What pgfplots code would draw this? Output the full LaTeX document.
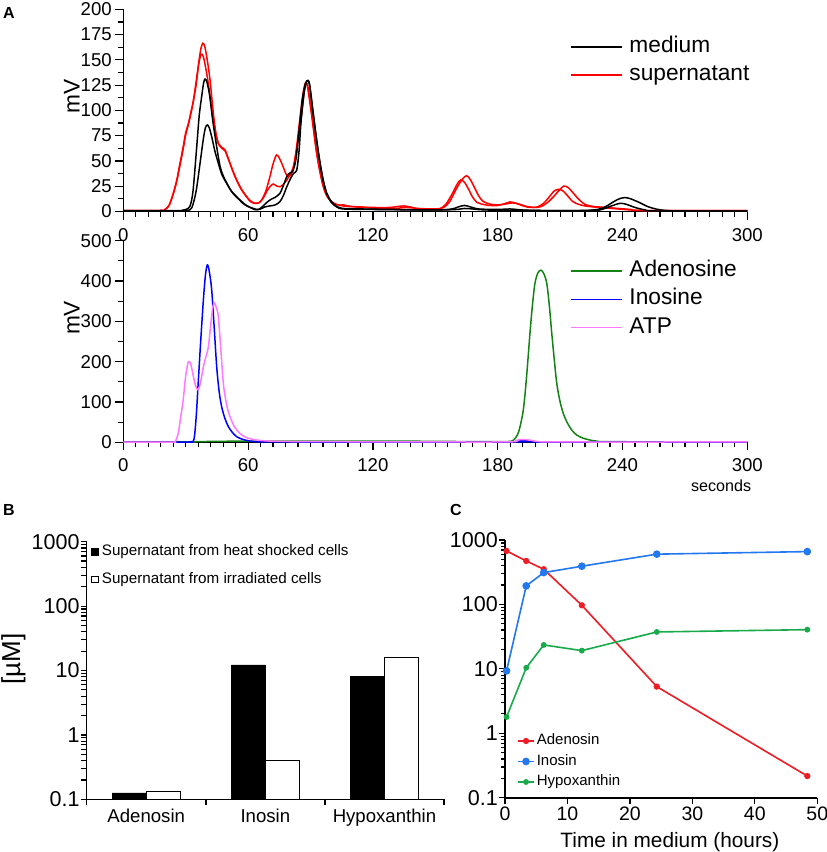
\documentclass[border=0pt]{standalone}
\usepackage{pgfplots}
\pgfplotsset{compat=1.18}
\usepackage{fontspec}
\setmainfont{Liberation Sans}

\definecolor{atp}{RGB}{255,120,255}
\definecolor{ado}{RGB}{20,130,20}
\definecolor{ino}{RGB}{0,0,255}
\definecolor{cred}{RGB}{238,28,36}
\definecolor{cblue}{RGB}{35,120,240}
\definecolor{cgreen}{RGB}{25,170,75}
\newcommand{\fs}[1]{\fontsize{#1pt}{#1pt}\selectfont}

\pgfplotsset{
  base/.style={
    scale only axis,
    axis x line*=bottom, axis y line*=left,
    axis line style={line width=1.6pt,-},
    every tick/.style={black,line width=1.2pt},
    tick align=outside,
    /pgf/number format/assume math mode=true,
    /pgf/number format/1000 sep={},
  },
  chrom/.style={base, width=624pt, xmin=0, xmax=300, ymin=0,
    xtick={0,60,...,300}, minor x tick num=9, minor y tick num=1,
    major tick length=8pt, minor tick length=5pt,
    tick label style={font=\fs{18.6}},
    xticklabel style={yshift=-5pt},
    ylabel={mV}, ylabel style={font=\fs{22.7}, anchor=center},
    legend style={draw=none, fill=none, font=\fs{22.7}, anchor=north west,
      inner sep=0pt, row sep=6.3pt,
      nodes={inner sep=0pt, text height=16.5pt, text depth=5.5pt},
      /tikz/every odd column/.append style={column sep=6.7pt}},
    legend cell align=left,
    every axis plot/.append style={smooth, line width=1.5pt},
  },
  logax/.style={base, ymin=0.1, ymax=1000,
    ytick={0.1,1,10,100,1000}, yticklabels={0.1,1,10,100,1000},
    minor ytick={0.2,0.3,0.4,0.5,0.6,0.7,0.8,0.9,2,3,4,5,6,7,8,9,20,30,40,50,60,70,80,90,200,300,400,500,600,700,800,900},
    major tick length=6pt, minor tick length=4pt,
    yticklabel style={font=\fs{21.5}, inner xsep=1pt},
    legend cell align=left,
  },
  lineleg/.style={legend image code/.code={\draw[mark repeat=2,mark phase=2,##1] plot coordinates {(0pt,0pt) (8.3pt,0pt) (16.6pt,0pt)};}},
}

\begin{document}
\begin{tikzpicture}
\path[use as bounding box] (0,0) rectangle (827pt,-852pt);
\node[font=\bfseries\fs{16}] at (9pt,-13pt) {A};
\node[font=\bfseries\fs{16}] at (9pt,-510pt) {B};
\node[font=\bfseries\fs{16}] at (456pt,-510pt) {C};

% A, top: medium vs supernatant
\begin{axis}[chrom, at={(123.3pt,-211.5pt)}, anchor=south west,
  height=202.2pt, ymax=200, ytick={0,25,...,200},
  ylabel style={at={(axis description cs:-0.0827,0.568)}},
  legend style={at={(axis description cs:0.716,0.87)}}]
\addlegendimage{legend image code/.code={\draw[black, line width=1.5pt] (0pt,0pt) -- (51pt,0pt);}}
\addlegendentry{medium}
\addlegendimage{legend image code/.code={\draw[red, line width=1.5pt] (0pt,0pt) -- (51pt,0pt);}}
\addlegendentry{supernatant}
\addplot[red, forget plot] coordinates {(0,1) (18,1) (20,2) (22,6) (24,18) (25.7,31) (27,45) (28.8,64) (30,78) (31.3,87) (32.5,98) (33.7,110) (35,128) (36,143) (37.2,160) (38.2,166.4) (39.2,163) (40.5,148) (41.7,130) (43.3,97) (44.5,78) (45.7,67.5) (47,64) (48.9,61) (50,55) (51.3,47.7) (53,38) (54.5,31) (56.5,23) (59.3,14.7) (61,10) (63.3,8) (65,8.5) (66.5,11.4) (68.5,20) (70.5,34.5) (72,47) (73.7,56) (75.2,52) (76.9,44) (78,38) (79.3,34.5) (80.8,37) (82.5,47.7) (84,70) (85.8,97) (87,120) (87.8,126.8) (88.8,123) (90.6,97) (91.8,77) (93,57.6) (94.5,40) (96.2,24.5) (98,15) (101,8) (104.2,6.4) (106,6.5) (108,5.5) (112,4.5) (120,4) (128,4) (132,5) (135,5.5) (138,4.5) (142,2.5) (148,2) (152,2.5) (155,7) (158,17) (160.5,27) (162.2,31.2) (164,29) (166,22) (168,14) (170,9) (172,7.5) (176,6) (180,6) (183,7.5) (186,9.5) (189,8) (193,5) (196,4) (199,4.5) (202,8) (205,15) (207,20) (209.2,22) (211,21) (213,17) (216,10) (219,7) (222,5.5) (226,4.5) (232,3.5) (238,2.5) (244,1.5) (250,1) (300,0.8)};
\addplot[red, forget plot] coordinates {(0,1) (18,1) (20,2) (22,6) (24,17) (25.7,30) (27,43) (28.8,62) (30,76) (31.3,86) (32.5,97) (33.7,109) (35,125) (36.2,145) (37.4,155.5) (38.5,153) (39.8,140) (41.2,122) (42.8,97) (44.2,79) (45.7,67) (47.2,63) (48.9,60) (50.3,53) (51.6,46) (53.3,37) (55,29) (57,21) (59.5,14) (61.5,10) (63.5,8) (65.5,9) (67.5,14) (69,20) (70.5,24.5) (72.1,27.2) (73.5,25.5) (75.3,24.5) (77,27) (78.6,31) (80.2,37) (81.7,44) (83.2,62) (84.8,90) (86.3,115) (87.5,127) (88.5,124) (90.3,99) (91.5,80) (92.8,60) (94.3,42) (96,26) (98,15) (101,8.5) (104.2,6) (108,5) (114,4.5) (120,3.5) (130,3) (136,4) (142,3) (150,2.5) (154,4) (157,10) (160,22) (163,32) (165.1,35.4) (167,31) (169,23) (171,15) (173,10) (176,7.5) (180,6.5) (184,7.5) (187,8.5) (190,7.5) (194,5) (198,4) (201,5) (204,9) (207,15) (210,22) (211.9,25.2) (214,23.5) (216,19) (219,12) (222,7) (226,5) (232,4) (238,3) (244,2) (250,1) (300,0.8)};
\addplot[black, forget plot] coordinates {(0,0.8) (20,0.8) (28,1) (30,2) (32,5) (33.5,20) (35.3,64) (36.5,95) (37.7,114) (38.6,127) (39.3,131) (40.2,128) (41.5,115) (43,90) (44.9,64) (46.5,45) (48.1,35) (50,27) (52,20) (54.5,14.7) (57,9) (59,6) (61,4) (63,2) (65,2) (67,5) (69,9) (71,12) (73,14) (75.3,18) (77,26) (78.6,34.5) (80,38) (81.5,40) (83,52) (84.5,80) (86,110) (87.5,126) (88.5,129.5) (89.5,126) (91.3,97) (93,70) (94.6,47.7) (96.2,30) (97.8,18) (100,10) (102.6,5) (106,3) (115,2.5) (130,2) (150,1.5) (158,2.5) (161,4.5) (164,6) (167,4.5) (171,2.5) (180,2) (186,2.5) (192,1.5) (200,1) (220,1) (228,2) (232,5) (236,10) (239,13) (241.5,13.7) (244,12.5) (248,9) (252,5) (256,2.5) (261,1) (270,0.5) (300,0.5)};
\addplot[black, forget plot] coordinates {(0,0.5) (28,0.5) (31,1) (33,4) (35,20) (36.9,47.7) (38.5,72) (39.5,83) (40.4,85.6) (41.3,83) (42.5,74) (44,60) (45.7,47.7) (47.5,36) (49.7,27.9) (52,20) (54,15) (56.1,11.4) (58.5,7) (60.5,4.5) (62.5,3) (64,2) (66,2.5) (68,4.5) (70.5,5.5) (73,6.5) (75.3,9.7) (77,16) (78.6,24.5) (80.5,33) (82,38) (83.4,41) (84.5,60) (85.5,90) (87,118) (88.3,129) (89.5,126) (91.3,97) (93,70) (94.6,47.7) (96.2,30) (97.8,18) (100,9) (102.6,4.5) (106,2.5) (120,2) (150,1.5) (160,2) (164,3) (168,2.5) (175,1.5) (200,1) (225,1) (230,2) (234,5) (238.8,8.1) (242,7) (246,4) (251,1.5) (256,0.5) (300,0.5)};
\end{axis}

% A, bottom: standards
\begin{axis}[chrom, at={(123.3pt,-442.3pt)}, anchor=south west,
  height=201.6pt, ymax=500, ytick={0,100,...,500},
  ylabel style={at={(axis description cs:-0.0827,0.617)}},
  xlabel={seconds}, xlabel style={font=\fs{16.1}, anchor=center, at={(axis description cs:0.958,-0.215)}},
  legend style={at={(axis description cs:0.716,0.905)}}]
\addlegendimage{legend image code/.code={\draw[ado, line width=1.5pt] (0pt,0pt) -- (51pt,0pt);}}
\addlegendentry{Adenosine}
\addlegendimage{legend image code/.code={\draw[ino, line width=1.5pt] (0pt,0pt) -- (51pt,0pt);}}
\addlegendentry{Inosine}
\addlegendimage{legend image code/.code={\draw[atp, line width=1.5pt] (0pt,0pt) -- (51pt,0pt);}}
\addlegendentry{ATP}
\addplot[ado, forget plot] coordinates {(0,1) (30,1) (40,2) (60,3) (100,3) (130,3) (160,2) (180,1.5) (185,2) (187.5,5) (190,25) (192.3,80) (194,170) (195.5,270) (196.7,340) (197.9,394) (199.3,420) (200.8,427) (202.2,418) (203.6,394) (204.8,340) (206,270) (207.2,205) (208.4,146) (209.8,105) (211.5,72) (213.5,48) (215.6,30.5) (218,18) (221.2,10) (224.5,5.5) (227.6,3) (235,1.5) (300,1)};
\addplot[ino, forget plot] coordinates {(0,0.5) (30,0.5) (32.5,1.5) (34,8) (35,60) (36,146) (37.2,250) (38.5,353) (39.5,415) (40.4,440) (41.3,425) (42.5,378) (43.7,285) (44.9,187.5) (46.1,125) (47.3,88) (48.8,60) (50.5,39) (52.5,24) (54.5,14) (57,8) (60.9,3) (65,1.5) (75,0.8) (185,0.8) (190,3) (193,4) (197,2) (205,0.5) (300,0.5)};
\addplot[atp, forget plot] coordinates {(0,0.5) (23,0.5) (25,2) (26.5,25) (27.5,60) (28.8,105) (30,165) (31.3,200) (32.5,192) (33.7,163) (34.8,140) (36,130) (37.2,150) (38.5,187.5) (39.7,212) (40.9,237) (42,290) (43,335) (43.8,345) (44.7,335) (45.7,311) (46.9,230) (48.1,146) (49.6,95) (51.3,63.5) (53.5,38) (56.1,22) (59,12) (62.5,7) (66,4.5) (70.5,3) (80,2) (100,1.5) (140,1) (185,1) (189,5) (192,7) (196,5) (200,1.5) (210,0.8) (300,0.8)};
\end{axis}

% B: bars
\begin{axis}[ymode=log, log origin=infty, logax, at={(86.7pt,-799.3pt)}, anchor=south west,
  width=357.3pt, height=257.6pt, xmin=-0.5, xmax=2.5,
  minor tick length=5.5pt,
  xtick={0,1,2}, xticklabels={Adenosin,Inosin,Hypoxanthin},
  xticklabel style={font=\fs{18.6}},
  major x tick style={draw=none},
  minor x tick style={black, line width=1.4pt},
  minor xtick={-0.5,0.5,1.5,2.5},
  ylabel={[µM]}, ylabel style={font=\fs{26}, anchor=center, at={(axis description cs:-0.2054,0.5446)}},
  legend style={draw=none, fill=none, font=\fs{15.2}, anchor=north west,
    at={(axis description cs:0.0112,0.99)}, inner sep=0pt, row sep=12.6pt,
    nodes={inner sep=0pt, text height=11.5pt, text depth=3.5pt},
    /tikz/every odd column/.append style={column sep=3.6pt}}]
\addplot[ybar, bar width=0.2855, bar shift=-0.14275, fill=black, draw=black, forget plot] coordinates {(0,0.126) (1,12.2) (2,8.2)};
\addplot[ybar, bar width=0.2855, bar shift=0.14275, fill=white, draw=black, line width=0.9pt, forget plot] coordinates {(0,0.134) (1,0.40) (2,16.0)};
\addlegendimage{legend image code/.code={\draw[black, fill=black] (0pt,-3.3pt) rectangle (6.6pt,3.3pt);}}
\addlegendentry{Supernatant from heat shocked cells}
\addlegendimage{legend image code/.code={\draw[black, fill=white, line width=0.8pt] (0pt,-3.3pt) rectangle (6.6pt,3.3pt);}}
\addlegendentry{Supernatant from irradiated cells}
\end{axis}

% C: time course
\begin{axis}[ymode=log, logax, lineleg, at={(505pt,-797.7pt)}, anchor=south west,
  width=312.3pt, height=257.7pt, xmin=0, xmax=50,
  xtick={0,10,...,50}, xticklabel style={font=\fs{19.5}},
  xlabel={Time in medium (hours)}, xlabel style={font=\fs{20.8}, anchor=center, at={(axis description cs:0.528,-0.172)}},
  legend style={draw=none, fill=none, font=\fs{15}, anchor=north west,
    at={(axis description cs:0.0375,0.25)}, inner sep=0pt, row sep=5.5pt,
    nodes={inner sep=0pt, text height=11.3pt, text depth=3.7pt},
    /tikz/every odd column/.append style={column sep=1.7pt}},
  every axis plot/.append style={line width=1.6pt}]
\addplot[cred, mark=*, mark size=2.3pt] coordinates {(0.25,676) (3.4,473) (6.2,352) (12.3,97) (24.3,5.3) (48.4,0.217)};
\addlegendentry{Adenosin}
\addplot[cblue, mark=*, mark size=3pt] coordinates {(0.25,9.3) (3.4,194) (6.2,312) (12.3,392) (24.3,603) (48.4,661)};
\addlegendentry{Inosin}
\addplot[cgreen, mark=*, mark size=2.1pt] coordinates {(0.25,1.79) (3.4,10.4) (6.2,23.5) (12.3,19.2) (24.3,37.4) (48.4,40.6)};
\addlegendentry{Hypoxanthin}
\end{axis}
\end{tikzpicture}
\end{document}
